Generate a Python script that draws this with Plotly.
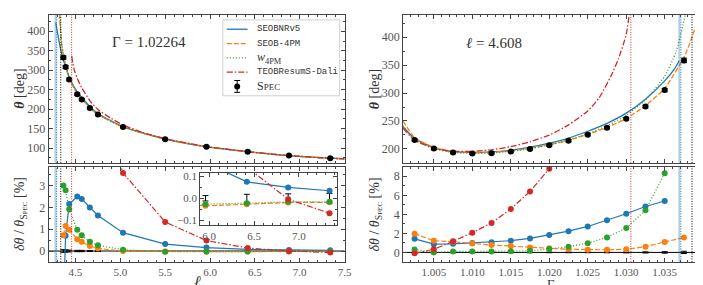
import plotly.graph_objects as go

# ---------------- data: left panels (Gamma = 1.02264, vary ell) ----------------
ell_spec = [4.365, 4.39, 4.43, 4.52, 4.57, 4.66, 4.75, 5.03, 5.50, 5.96, 6.42, 6.88, 7.34]
theta_spec_l = [332.6, 308.1, 276.1, 238.2, 224.7, 202.8, 185.9, 153.9, 122.8, 103.4, 90.7, 80.6, 73.9]
theta_err_l = [4, 4, 3.5, 3, 3, 2.5, 2.5, 2, 2, 1.5, 1.5, 1.5, 1.5]

ell_c_blue = [4.28, 4.30, 4.32, 4.34, 4.365, 4.39, 4.43, 4.52, 4.57, 4.66, 4.75, 5.03, 5.50, 5.96, 6.42, 6.88, 7.34, 7.5]
theta_c_blue = [422, 396, 371, 348, 326, 310, 282, 244, 230, 207, 189, 155.2, 123.2, 103.6, 90.8, 80.6, 73.9, 72.5]
ell_c_orange = [4.322, 4.33, 4.34, 4.35, 4.365, 4.39, 4.43, 4.52, 4.57, 4.66, 4.75, 5.03, 5.50, 5.96, 6.42, 6.88, 7.34, 7.5]
theta_c_orange = [445, 410, 380, 358, 335, 311.6, 278.8, 239.5, 225.6, 203.3, 186.1, 153.9, 122.8, 103.4, 90.7, 80.6, 73.9, 72.5]
ell_c_green = [4.325, 4.33, 4.34, 4.35, 4.365, 4.39, 4.43, 4.52, 4.57, 4.66, 4.75, 5.03, 5.50, 5.96, 6.42, 6.88, 7.34, 7.5]
theta_c_green = [445, 422, 392, 367, 342.6, 316.7, 281.4, 240.5, 226.4, 203.6, 186.4, 154.0, 122.8, 103.4, 90.7, 80.6, 73.9, 72.5]
ell_c_red = [4.458, 4.47, 4.49, 4.52, 4.57, 4.66, 4.75, 4.90, 5.03, 5.25, 5.50, 5.96, 6.42, 6.88, 7.34, 7.5]
theta_c_red = [336, 318, 298, 279, 255, 222, 199, 176, 159.4, 140, 124.4, 103.9, 90.8, 80.6, 73.85, 72.3]

rel_blue_l = [-2.5, 0.7, 2.15, 2.5, 2.38, 1.99, 1.63, 0.84, 0.32, 0.16, 0.074, 0.049, 0.034]
rel_orange_l = [0.72, 1.15, 0.97, 0.54, 0.42, 0.23, 0.12, 0.0, -0.02, -0.034, -0.027, -0.019, -0.018]
rel_green_l = [3.0, 2.78, 1.91, 0.97, 0.72, 0.42, 0.26, 0.06, -0.03, -0.027, -0.022, -0.016, -0.016]
ell_red_pts = [4.52, 4.57, 4.66, 4.75, 5.03, 5.50, 5.96, 6.42, 6.88, 7.34]
rel_red_l = [17.1, 13.5, 9.5, 7.0, 3.58, 1.33, 0.48, 0.14, -0.004, -0.067]
rel_err_l = [0.06, 0.05, 0.04, 0.03, 0.03, 0.02, 0.02, 0.015, 0.012, 0.012, 0.018, 0.02, 0.022]

ell_thresh = {"blue_band": 4.277, "blue": 4.29, "black": 4.336, "red": 4.457}

# ---------------- data: right panels (ell = 4.608, vary Gamma) ----------------
gam_spec = [1.0025, 1.0050, 1.0075, 1.0100, 1.0125, 1.0150, 1.0175, 1.0200,
            1.0225, 1.0250, 1.0275, 1.0300, 1.0325, 1.0350, 1.0375]
theta_spec_r = [216, 200.5, 193.4, 191.7, 192.4, 195.2, 200, 206.6, 214.7, 225.4, 237.8, 253.8, 275.8, 305.3, 358.5]
theta_err_r = [2, 2, 2, 2, 2, 2, 2, 2, 2, 2, 2, 2, 2.5, 3, 4]

gam_c_blue = [1.001, 1.0025, 1.005, 1.0075, 1.010, 1.0125, 1.015, 1.0175, 1.020, 1.0225, 1.025, 1.0275, 1.030, 1.0325, 1.035, 1.0362, 1.0369]
theta_c_blue_r = [240, 219, 202.3, 195.1, 193.6, 194.5, 197.6, 203, 210.4, 219.5, 231.6, 245.8, 264.1, 289.1, 321.8, 342, 358]
gam_c_orange = [1.001, 1.0025, 1.005, 1.0075, 1.010, 1.0125, 1.015, 1.0175, 1.020, 1.0225, 1.025, 1.0275, 1.030, 1.0325, 1.035, 1.0375, 1.0385, 1.0395]
theta_c_orange_r = [250, 220.3, 203, 195.6, 193.5, 193.9, 196.5, 201, 207.5, 215.4, 226, 238.4, 254.6, 277.5, 308.7, 364.2, 398, 440]
gam_c_green = [1.001, 1.0025, 1.005, 1.0075, 1.010, 1.0125, 1.015, 1.0175, 1.020, 1.0225, 1.025, 1.0275, 1.030, 1.0325, 1.035, 1.0365, 1.0377]
theta_c_green_r = [241, 216.6, 200.5, 193.6, 191.9, 192.6, 195.5, 200.3, 207.4, 216, 227.6, 241.5, 260.3, 288, 330.7, 375, 442]
gam_c_red = [1.001, 1.0025, 1.005, 1.0075, 1.010, 1.0125, 1.015, 1.0175, 1.020, 1.0225, 1.025, 1.0265, 1.028, 1.029, 1.030, 1.0304]
theta_c_red_r = [237, 215.8, 201.2, 195.7, 195.6, 198.4, 204.1, 212.8, 224.8, 243, 268, 292, 330, 362, 405, 442]

rel_blue_r = [1.43, 0.87, 0.9, 1.0, 1.07, 1.23, 1.47, 1.83, 2.23, 2.73, 3.37, 4.07, 4.83, 5.4]
rel_orange_r = [1.97, 1.23, 1.13, 0.93, 0.77, 0.67, 0.53, 0.43, 0.33, 0.27, 0.27, 0.33, 0.6, 1.1, 1.57]
rel_green_r = [0.3, 0.0, 0.1, 0.1, 0.1, 0.13, 0.17, 0.37, 0.6, 0.97, 1.57, 2.57, 4.43, 8.33]
rel_red_r = [-0.1, 0.33, 1.17, 2.07, 3.1, 4.57, 6.4, 8.8]
rel_err_r = [0.03, 0.03, 0.03, 0.03, 0.03, 0.03, 0.03, 0.03, 0.03, 0.03, 0.04, 0.05, 0.06, 0.08, 0.12]

gam_thresh = {"red": 1.0306, "blue_band": 1.0369, "blue": 1.0371, "black": 1.03855}

legend_names = ["SEOBNRv5", "SEOB-4PM", "<i>w</i><sub>4PM</sub>", "TEOBResumS-Dali",
                "S<span style='font-size:9px'>PEC</span>"]

# ---------------- styling ----------------
C_BLUE, C_ORANGE, C_GREEN, C_RED = "#1f77b4", "#ff7f0e", "#2ca02c", "#d62728"
DASH = {"blue": "solid", "orange": "5px,2px", "green": "1px,2px", "red": "6px,2px,1.5px,2px"}
SERIF = "Liberation Serif"
MONO = "Liberation Mono"
TICKC = "#555"
W, H = 703, 285

fig = go.Figure()


def curve(x, y, xa, ya, color, dash, width=1.3):
    fig.add_trace(go.Scatter(x=x, y=y, xaxis=xa, yaxis=ya, mode="lines",
                             line=dict(color=color, dash=dash, width=width, shape="spline", smoothing=0.6),
                             showlegend=False, hoverinfo="skip"))


def pts(x, y, xa, ya, color, dash):
    fig.add_trace(go.Scatter(x=x, y=y, xaxis=xa, yaxis=ya, mode="lines+markers",
                             line=dict(color=color, dash=dash, width=1.2),
                             marker=dict(color=color, size=6), showlegend=False, hoverinfo="skip"))


def errs(x, err, xa, ya):
    fig.add_trace(go.Scatter(x=x, y=[0] * len(x), xaxis=xa, yaxis=ya, mode="markers",
                             marker=dict(color="black", size=1, opacity=0),
                             error_y=dict(type="data", array=err, color="black", thickness=1, width=3),
                             showlegend=False, hoverinfo="skip"))


# top-left curves
curve(ell_c_blue, theta_c_blue, "x", "y", C_BLUE, DASH["blue"])
curve(ell_c_orange, theta_c_orange, "x", "y", C_ORANGE, DASH["orange"])
curve(ell_c_green, theta_c_green, "x", "y", C_GREEN, DASH["green"])
curve(ell_c_red, theta_c_red, "x", "y", C_RED, DASH["red"])
fig.add_trace(go.Scatter(x=ell_spec, y=theta_spec_l, xaxis="x", yaxis="y", mode="markers",
                         marker=dict(color="black", size=6),
                         error_y=dict(type="data", array=theta_err_l, color="black", thickness=1, width=3),
                         showlegend=False, hoverinfo="skip"))

# top-right curves
curve(gam_c_blue, theta_c_blue_r, "x3", "y3", C_BLUE, DASH["blue"])
curve(gam_c_orange, theta_c_orange_r, "x3", "y3", C_ORANGE, DASH["orange"])
curve(gam_c_green, theta_c_green_r, "x3", "y3", C_GREEN, DASH["green"])
curve(gam_c_red, theta_c_red_r, "x3", "y3", C_RED, DASH["red"])
fig.add_trace(go.Scatter(x=gam_spec, y=theta_spec_r, xaxis="x3", yaxis="y3", mode="markers",
                         marker=dict(color="black", size=6),
                         error_y=dict(type="data", array=theta_err_r, color="black", thickness=1, width=3),
                         showlegend=False, hoverinfo="skip"))

# bottom-left relative differences
errs(ell_spec, rel_err_l, "x2", "y2")
pts(ell_spec, rel_blue_l, "x2", "y2", C_BLUE, DASH["blue"])
pts(ell_spec, rel_orange_l, "x2", "y2", C_ORANGE, DASH["orange"])
pts(ell_spec, rel_green_l, "x2", "y2", C_GREEN, DASH["green"])
pts(ell_red_pts, rel_red_l, "x2", "y2", C_RED, DASH["red"])

# inset
errs(ell_spec, rel_err_l, "x5", "y5")
pts(ell_spec, rel_blue_l, "x5", "y5", C_BLUE, DASH["blue"])
pts(ell_spec, rel_orange_l, "x5", "y5", C_ORANGE, DASH["orange"])
pts(ell_spec, rel_green_l, "x5", "y5", C_GREEN, DASH["green"])
pts(ell_red_pts, rel_red_l, "x5", "y5", C_RED, DASH["red"])

# bottom-right relative differences
errs(gam_spec, rel_err_r, "x4", "y4")
pts(gam_spec[:len(rel_blue_r)], rel_blue_r, "x4", "y4", C_BLUE, DASH["blue"])
pts(gam_spec, rel_orange_r, "x4", "y4", C_ORANGE, DASH["orange"])
pts(gam_spec[:len(rel_green_r)], rel_green_r, "x4", "y4", C_GREEN, DASH["green"])
pts(gam_spec[:len(rel_red_r)], rel_red_r, "x4", "y4", C_RED, DASH["red"])

# ---------------- shapes: threshold lines and zero lines ----------------
shapes = []


def vline(x, xref, yref, color, dash, width=1.0):
    shapes.append(dict(type="line", xref=xref, yref=yref + " domain", x0=x, x1=x, y0=0, y1=1,
                       line=dict(color=color, dash=dash, width=width), layer="above"))


for ya in ("y", "y2"):
    vline(ell_thresh["blue_band"], "x", ya, "rgba(31,119,180,0.35)", "solid", 2)
    vline(ell_thresh["blue"], "x", ya, C_BLUE, "1px,1.5px")
    vline(ell_thresh["black"], "x", ya, "black", "1px,1.5px")
    vline(ell_thresh["red"], "x", ya, C_RED, "1px,1.5px")
for ya in ("y3", "y4"):
    vline(gam_thresh["red"], "x3", ya, C_RED, "1px,1.5px")
    vline(gam_thresh["blue_band"], "x3", ya, "rgba(31,119,180,0.35)", "solid", 2)
    vline(gam_thresh["blue"], "x3", ya, C_BLUE, "1px,1.5px")
    vline(gam_thresh["black"], "x3", ya, "black", "1px,1.5px")

for xa, ya in (("x2", "y2"), ("x4", "y4"), ("x5", "y5")):
    shapes.append(dict(type="line", xref=xa + " domain", yref=ya, x0=0, x1=1, y0=0, y1=0,
                       line=dict(color="black", width=1), layer="below"))


# ---------------- legend (drawn in paper space) ----------------
def px(x):
    return x / W


def py(y):
    return 1 - y / H


shapes.append(dict(type="rect", xref="paper", yref="paper", x0=px(217), x1=px(335), y0=py(86), y1=py(9),
                   line=dict(color="#d0d0d0", width=1), fillcolor="rgba(255,255,255,0.85)", layer="above"))
leg_rows = [18.5, 33, 47.5, 62, 76.5]
leg_styles = [(C_BLUE, DASH["blue"]), (C_ORANGE, DASH["orange"]), (C_GREEN, DASH["green"]), (C_RED, DASH["red"])]
for (col, dsh), ry in zip(leg_styles, leg_rows):
    shapes.append(dict(type="line", xref="paper", yref="paper", x0=px(221), x1=px(242), y0=py(ry), y1=py(ry),
                       line=dict(color=col, dash=dsh, width=1.3), layer="above"))
ry = leg_rows[4]
shapes.append(dict(type="line", xref="paper", yref="paper", x0=px(231.5), x1=px(231.5), y0=py(ry + 6), y1=py(ry - 6),
                   line=dict(color="black", width=1), layer="above"))
for cy in (ry - 6, ry + 6):
    shapes.append(dict(type="line", xref="paper", yref="paper", x0=px(228.5), x1=px(234.5), y0=py(cy), y1=py(cy),
                       line=dict(color="black", width=1), layer="above"))
shapes.append(dict(type="circle", xref="paper", yref="paper", x0=px(228.5), x1=px(234.5), y0=py(ry + 3), y1=py(ry - 3),
                   line=dict(color="black", width=0), fillcolor="black", layer="above"))

# ---------------- axes ----------------
def ax(domain, rng, dtick, minor, labels=True, fmt=None, anchor=None, tick0=0, fs=12):
    d = dict(domain=domain, range=rng, dtick=dtick, tick0=tick0, showline=True, linecolor="#444",
             linewidth=1, mirror="ticks", ticks="inside", ticklen=4, tickwidth=0.8, tickcolor="#444",
             showgrid=False, zeroline=False, showticklabels=labels,
             tickfont=dict(family=SERIF, size=fs, color=TICKC),
             minor=dict(ticks="inside", ticklen=2, dtick=minor, tickcolor="#444", tickwidth=0.6, showgrid=False),
             anchor=anchor)
    if fmt:
        d["tickformat"] = fmt
    return d


XL = [0.0583, 0.4836]
XR = [0.5676, 0.9922]
YT = [0.4596, 0.986]
YB = [0.1070, 0.4456]
theta_title = "<b><i>θ</i></b> [deg]"
rel_title = "<i>δθ</i> / <i>θ</i><sub>S<span style='font-size:7px'>PEC</span></sub> [%]"


def label(text, x, y, angle=0, size=15, fam=SERIF, xanchor="center", yanchor="middle"):
    return dict(text=text, xref="paper", yref="paper", x=px(x), y=py(y),
                xanchor=xanchor, yanchor=yanchor, showarrow=False, textangle=angle, borderpad=0,
                font=dict(family=fam, size=size, color="#333"))


annotations = [
    label("Γ = 1.02264", 142, 31),
    label("<i>ℓ</i> = 4.608", 491, 32),
    label(theta_title, 12, 79, -90, 14),
    label(rel_title, 12, 206, -90, 14),
    label(theta_title, 371, 79, -90, 14),
    label(rel_title, 371, 206, -90, 14),
    label("<i>ℓ</i>", 191, 284.5, 0, 16, fam="DejaVu Serif", yanchor="bottom"),
    label("Γ", 548, 284.5, 0, 13, yanchor="bottom"),
]
for i, (name, ry) in enumerate(zip(legend_names, leg_rows)):
    fam = MONO if i in (0, 1, 3) else SERIF
    size = 9 if fam == MONO else 12
    annotations.append(label(name, 250, ry, 0, size, fam=fam, xanchor="left"))

fig.update_layout(
    xaxis=ax(XL, [4.2, 7.5], 0.5, 0.1, labels=False, anchor="y"),
    yaxis=ax(YT, [62, 442], 50, 25, anchor="x"),
    xaxis2=ax(XL, [4.2, 7.5], 0.5, 0.1, fmt=".1f", anchor="y2", fs=11),
    yaxis2=ax(YB, [-0.5, 3.86], 1, 0.5, anchor="x2"),
    xaxis3=ax(XR, [1.001, 1.0394], 0.005, 0.001, labels=False, anchor="y3", tick0=1.0),
    yaxis3=ax(YT, [175, 440], 50, 25, anchor="x3"),
    xaxis4=ax(XR, [1.001, 1.0394], 0.005, 0.001, fmt=".3f", anchor="y4", tick0=1.0, fs=11),
    yaxis4=ax(YB, [-1, 9], 2, 1, anchor="x4"),
    xaxis5=ax([0.2760, 0.4723], [5.9, 7.42], 0.5, 0.1, fmt=".1f", anchor="y5", fs=11),
    yaxis5=ax([0.2368, 0.4246], [-0.122, 0.115], 0.1, 0.05, fmt=".1f", anchor="x5", fs=11),
    shapes=shapes,
    annotations=annotations,
    width=W, height=H, margin=dict(l=0, r=0, t=0, b=0),
    paper_bgcolor="white", plot_bgcolor="white", showlegend=False,
)

fig.write_html("out.html")
